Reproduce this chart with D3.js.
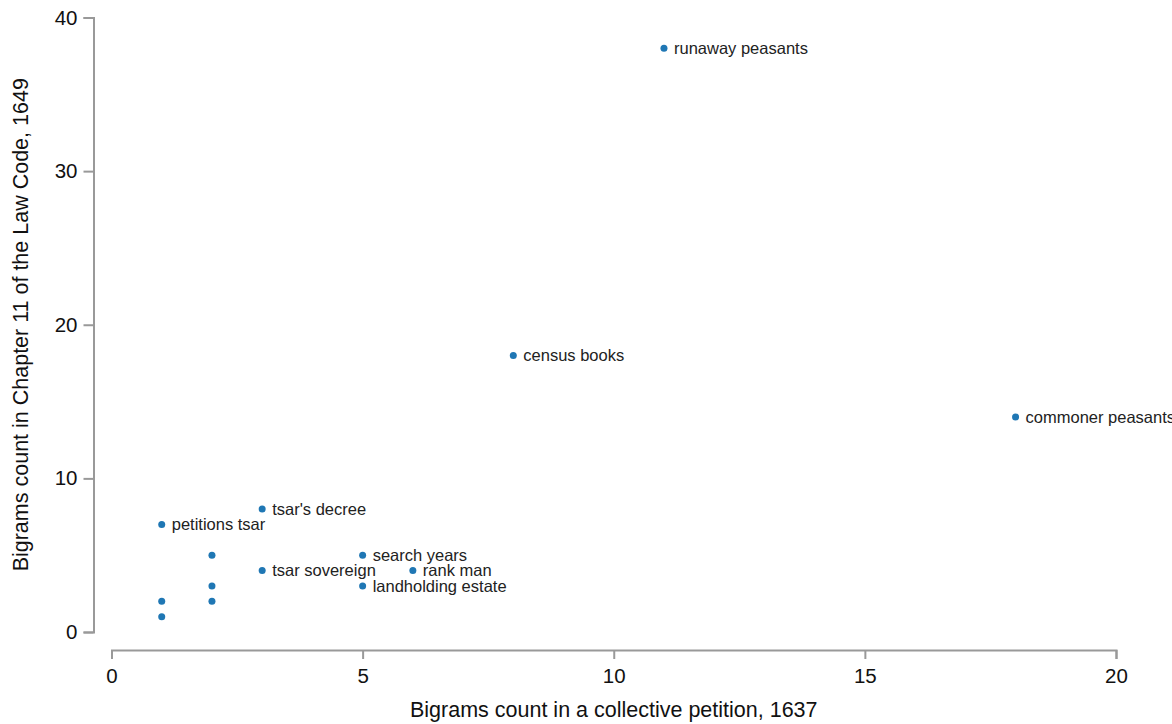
<!DOCTYPE html>
<html>
<head>
<meta charset="utf-8">
<script src="https://cdn.jsdelivr.net/npm/d3@7"></script>
<style>
  html, body { margin: 0; padding: 0; background: #fff; }
  svg { display: block; font-family: "Liberation Sans", Arial, sans-serif; }
</style>
</head>
<body>
<svg id="chart" width="1172" height="724"></svg>
<script>
// Bigram counts: collective petition (1637) vs Chapter 11 of the Law Code (1649)
const bigrams = ["runaway peasants", "census books", "commoner peasants", "tsar's decree",
  "petitions tsar", "search years", "tsar sovereign", "rank man", "landholding estate",
  "", "", "", "", ""];
const petitionCounts = [11, 8, 18, 3, 1, 5, 3, 6, 5, 2, 2, 2, 1, 1];
const lawCodeCounts  = [38, 18, 14, 8, 7, 5, 4, 4, 3, 5, 3, 2, 2, 1];
const xTicks = [0, 5, 10, 15, 20];
const yTicks = [0, 10, 20, 30, 40];

const data = bigrams.map((b, i) => ({ label: b, x: petitionCounts[i], y: lawCodeCounts[i] }));

const svg = d3.select("#chart");
const x = d3.scaleLinear().domain([0, 20]).range([111.5, 1116]);
const y = d3.scaleLinear().domain([0, 40]).range([632, 17.5]);

const axisColor = "#999";
const font = "Liberation Sans, Arial, sans-serif";

// y axis, offset to the left of the plot area
const gy = svg.append("g")
  .attr("transform", "translate(93.5,0)")
  .call(d3.axisLeft(y).tickValues(yTicks).tickSize(10).tickPadding(6));
gy.selectAll("path, line").attr("stroke", axisColor).attr("stroke-width", 2);
gy.selectAll("text").attr("font-size", 20.5).attr("fill", "#111").attr("font-family", font);

// x axis, offset below the plot area
const gx = svg.append("g")
  .attr("transform", "translate(0,650)")
  .call(d3.axisBottom(x).tickValues(xTicks).tickSize(9).tickPadding(9));
gx.selectAll("path, line").attr("stroke", axisColor).attr("stroke-width", 2);
gx.selectAll("text").attr("font-size", 20.5).attr("fill", "#111").attr("font-family", font);

// axis titles
svg.append("text")
  .attr("x", (x(0) + x(20)) / 2)
  .attr("y", 717)
  .attr("text-anchor", "middle")
  .attr("font-size", 21.5)
  .attr("fill", "#111")
  .text("Bigrams count in a collective petition, 1637");

svg.append("text")
  .attr("transform", `translate(28,${(y(0) + y(40)) / 2}) rotate(-90)`)
  .attr("text-anchor", "middle")
  .attr("font-size", 21.5)
  .attr("fill", "#111")
  .text("Bigrams count in Chapter 11 of the Law Code, 1649");

// points
svg.append("g").selectAll("circle")
  .data(data)
  .join("circle")
  .attr("cx", d => x(d.x))
  .attr("cy", d => y(d.y))
  .attr("r", 3.5)
  .attr("fill", "#1f77b4");

// labels
svg.append("g").selectAll("text")
  .data(data.filter(d => d.label))
  .join("text")
  .attr("x", d => x(d.x) + 10)
  .attr("y", d => y(d.y))
  .attr("dy", "0.35em")
  .attr("font-size", 16.5)
  .attr("fill", "#222")
  .text(d => d.label);
</script>
</body>
</html>
